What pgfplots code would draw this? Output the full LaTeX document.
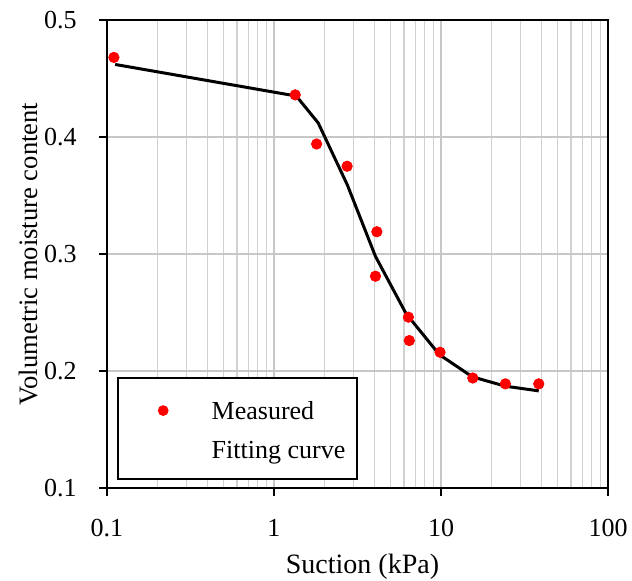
\documentclass[border=0pt]{standalone}
\usepackage{pgfplots}
\pgfplotsset{compat=1.18}
\usepackage{fontspec}
\setmainfont{Liberation Serif}
\begin{document}
\begin{tikzpicture}
\useasboundingbox (-53.5pt,-46.5pt) rectangle (262.5pt,244pt);
\begin{axis}[
  at={(0pt,0pt)}, anchor=south west,
  scale only axis, width=250.5pt, height=234pt,
  xmode=log, xmin=0.1, xmax=100, ymin=0.1, ymax=0.5,
  xtick={0.1,1,10,100}, xticklabels={0.1,1,10,100},
  minor xtick={0.2,0.3,0.4,0.5,0.6,0.7,0.8,0.9,2,3,4,5,6,7,8,9,20,30,40,50,60,70,80,90},
  ytick={0.1,0.2,0.3,0.4,0.5},
  yticklabels={0.1,0.2,0.3,0.4,0.5},
  xmajorgrids, xminorgrids, ymajorgrids,
  major grid style={draw=black!22, line width=0.6pt},
  minor grid style={draw=black!18, line width=0.6pt},
  axis line style={black, line width=1pt},
  tick style={black, line width=1pt},
  major tick length=4pt, minor tick length=0pt,
  tick align=outside, xtick pos=bottom, ytick pos=left,
  /pgf/number format/assume math mode=true,
  tick label style={font=\fontsize{13}{15}\selectfont},
  xticklabel style={yshift=-8.2pt},
  yticklabel style={xshift=-7.7pt},
  xlabel={Suction (kPa)},
  ylabel={Volumetric moisture content},
  xlabel style={font=\fontsize{14}{16}\selectfont, at={(axis description cs:0.51,-0.1688)}, anchor=center},
  ylabel style={font=\fontsize{13.3}{15}\selectfont, at={(axis description cs:-0.1577,0.5)}, anchor=center, rotate=0},
  legend cell align=left,
  legend style={at={(axis description cs:0.0194,0.0171)}, anchor=south west,
    draw=black, line width=1pt, fill=white,
    inner xsep=6pt, inner ysep=9.5pt,
    row sep=7.5pt,
    nodes={inner sep=0pt, text height=11.5pt, text depth=0.5pt},
    /tikz/every odd column/.append style={column sep=10.5pt},
    font=\fontsize{13}{15}\selectfont},
]
\addplot[only marks, mark=*, mark size=2.6pt, color=red, draw=none, fill=red,
  legend image code/.code={\path (0pt,0pt) (29pt,0pt); \fill[red] (16pt,-0.8pt) circle (2.7pt);}]
  table {
x y
0.11 0.468
1.34 0.436
1.80 0.394
2.74 0.375
4.13 0.319
4.05 0.281
6.38 0.246
6.46 0.226
9.87 0.216
15.5 0.194
24.3 0.189
38.5 0.189
};
\addlegendentry{Measured}
\addplot[black, line width=1.5pt, mark=none,
  legend image code/.code={\path (0pt,0pt) (29pt,0pt);}]
  table {
x y
0.112 0.462
1.36 0.435
1.84 0.412
2.75 0.359
4.05 0.298
6.18 0.249
9.78 0.214
15.4 0.195
24.3 0.187
38.5 0.183
};
\addlegendentry{Fitting curve}
\end{axis}
\end{tikzpicture}
\end{document}
